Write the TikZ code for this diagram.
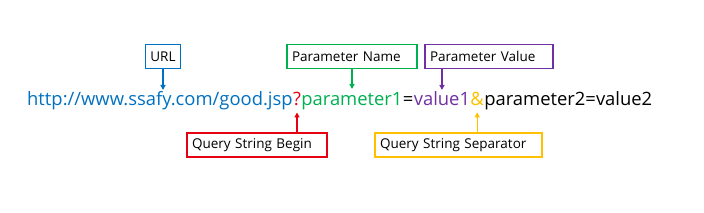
\documentclass[tikz,border=0pt]{standalone}
\usepackage{fontspec}
\setmainfont{Open Sans}
\usepackage{xcolor}
\usepackage{tikz}
\usetikzlibrary{arrows.meta,positioning}

\definecolor{urlblue}{RGB}{0,112,192}
\definecolor{namegreen}{RGB}{0,176,80}
\definecolor{valpurple}{RGB}{112,48,160}
\definecolor{beginred}{RGB}{230,0,18}
\definecolor{sepgold}{RGB}{255,192,0}

\begin{document}
\begin{tikzpicture}[x=1pt, y=1pt,
    part/.style={inner sep=0pt, font=\fontsize{18.4}{21}\selectfont, anchor=base west},
    tag/.style={draw, line width=1.8pt, font=\fontsize{13.5}{15}\selectfont, minimum height=24pt, inner xsep=5pt, align=left},
    arr/.style={line width=1.4pt, -{Triangle[length=5pt,width=5pt]}}]
  \useasboundingbox (0,0) rectangle (704,213);

  % the query string, piece by piece
  \node[part, text=urlblue] (url) at (27,107) {http://www.ssafy.com/good.jsp};
  \node[part, text=beginred] (qmark) at (url.base east) {?};
  \node[part, text=namegreen] (pname) at (qmark.base east) {parameter1};
  \node[part] (eqa) at (pname.base east) {=};
  \node[part, text=valpurple] (pvalue) at (eqa.base east) {value1};
  \node[part, text=sepgold] (amp) at (pvalue.base east) {\&};
  \node[part] (rest) at (amp.base east) {parameter2=value2};

  % labels above
  \node[tag, urlblue, text=black] (urlbox) at (163,156.5) {URL};
  \node[tag, namegreen, text=black, text width=120pt] (namebox) at (352,156.5) {Parameter Name};
  \node[tag, valpurple, text=black, text width=118pt] (valuebox) at (489,156.5) {Parameter Value};

  % labels below
  \node[tag, beginred, text=black, text width=130pt] (beginbox) at (257,68) {Query String Begin};
  \node[tag, sepgold, text=black, text width=157pt] (sepbox) at (458.5,68) {Query String Separator};

  % arrows
  \draw[arr, urlblue] (urlbox.south) -- (urlbox.south |- 0,123);
  \draw[arr, namegreen] (namebox.south) -- (namebox.south |- 0,124);
  \draw[arr, valpurple] (pvalue.north |- valuebox.south) -- (pvalue.north |- 0,123);
  \draw[arr, beginred] (qmark.south |- beginbox.north) -- ([yshift=-6pt]qmark.south);
  \draw[arr, sepgold] (amp.south |- sepbox.north) -- ([yshift=-6pt]amp.south);
\end{tikzpicture}
\end{document}
